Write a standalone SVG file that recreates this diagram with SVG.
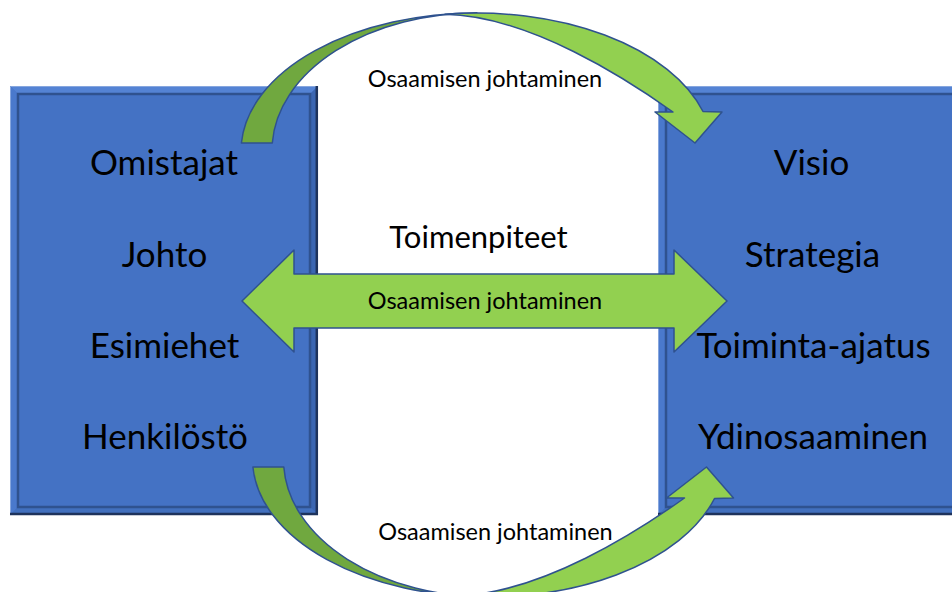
<svg xmlns="http://www.w3.org/2000/svg" xmlns:xlink="http://www.w3.org/1999/xlink" width="952" height="592" viewBox="0 0 952 592">
  <style>
    .face { fill: #4472C4; }
    .bev-top { fill: #5483D4; }
    .bev-left { fill: #4A79CC; }
    .bev-right { fill: #3B66B2; }
    .bev-bottom { fill: #4270BE; }
    .frame { fill: none; stroke: #2F528F; stroke-width: 2.5; }
    .hilite { fill: none; stroke: #86A6DE; stroke-width: 1; }
    .edge { fill: none; stroke: #1E335C; stroke-width: 2.5; }
    .big { font-family: Lato, "Open Sans", "Liberation Sans", sans-serif; font-size: 35px; fill: #000; text-anchor: middle; }
    .mid { font-family: Lato, "Open Sans", "Liberation Sans", sans-serif; font-size: 31px; fill: #000; text-anchor: middle; }
    .small { font-family: Lato, "Open Sans", "Liberation Sans", sans-serif; font-size: 23.5px; fill: #000; text-anchor: middle; }
    .arrow-dark { fill: #70A83F; stroke: #2F528F; stroke-width: 1.5; stroke-linejoin: round; }
    .arrow-light { fill: #92D050; stroke: #2F528F; stroke-width: 1.5; stroke-linejoin: round; }
  </style>
  <defs>
    <!-- curved arrow: dark back face on the tail side, light front band ending in the head -->
    <g id="curvedArrow">
      <path class="arrow-dark" d="M241.4,143 A236,138 0 0 1 477,13 A205,137 0 0 0 272.3,143 Z"/>
      <path class="arrow-light" d="M445,14.3 A236,138 0 0 1 703,111.5 L722,112 L695,143 L655,112 L673,112 C628,80 530,16 445,14.3 Z"/>
    </g>
  </defs>

  <rect width="952" height="592" fill="#FFFFFF"/>

  <!-- left box: organisation levels -->
  <g id="levels">
    <rect class="face" x="10" y="86" width="308" height="429"/>
    <path class="bev-top" d="M10,86 H318 L310,94 H18 Z"/>
    <path class="bev-left" d="M10,86 L18,94 V507 L10,515 Z"/>
    <path class="bev-right" d="M318,86 V515 L310,507 V94 Z"/>
    <path class="bev-bottom" d="M10,515 H318 L310,507 H18 Z"/>
    <rect class="frame" x="18" y="94" width="292" height="413"/>
    <path class="hilite" d="M10.5,515 V86.5 H318"/>
    <path class="edge" d="M316.8,86 V514 H10"/>
    <text class="big" x="164" y="175">Omistajat</text>
    <text class="big" x="164.5" y="267">Johto</text>
    <text class="big" x="164.5" y="358">Esimiehet</text>
    <text class="big" x="165" y="449">Henkilöstö</text>
  </g>

  <!-- right box: direction -->
  <g id="direction">
    <rect class="face" x="658" y="86" width="310" height="429"/>
    <path class="bev-top" d="M658,86 H968 L960,94 H666 Z"/>
    <path class="bev-left" d="M658,86 L666,94 V507 L658,515 Z"/>
    <path class="bev-bottom" d="M658,515 H968 L960,507 H666 Z"/>
    <rect class="frame" x="666" y="94" width="300" height="413"/>
    <path class="hilite" d="M658.5,515 V86.5 H968"/>
    <path class="edge" d="M968,514 H658"/>
    <text class="big" x="811.5" y="175">Visio</text>
    <text class="big" x="812.5" y="267">Strategia</text>
    <text class="big" x="813.5" y="358">Toiminta-ajatus</text>
    <text class="big" x="813" y="449">Ydinosaaminen</text>
  </g>

  <!-- middle heading -->
  <g id="actions">
    <text class="mid" x="478.5" y="248">Toimenpiteet</text>
  </g>

  <!-- arrows between the boxes -->
  <g id="connectors">
    <use xlink:href="#curvedArrow"/>
    <use xlink:href="#curvedArrow" transform="translate(11.5,610) scale(1,-1)"/>
    <polygon class="arrow-light" points="242,301 294,250 294,274 674,274 674,250 727,301 674,352 674,328 294,328 294,352"/>
    <text class="small" x="485" y="87">Osaamisen johtaminen</text>
    <text class="small" x="485" y="309">Osaamisen johtaminen</text>
    <text class="small" x="495.5" y="540">Osaamisen johtaminen</text>
  </g>
</svg>
